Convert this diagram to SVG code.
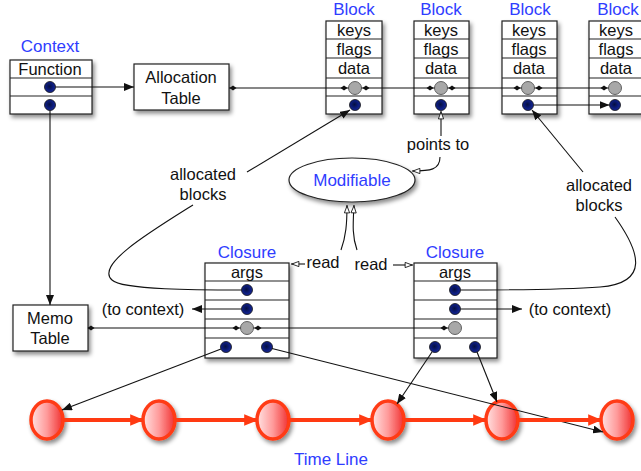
<svg xmlns="http://www.w3.org/2000/svg" width="641" height="471" viewBox="0 0 641 471">
<defs>
<style>
text{font-family:"Liberation Sans",Arial,sans-serif;font-size:16.5px;fill:#111;text-anchor:middle}
.blue{fill:#2f3dff;font-size:17px}
.box{fill:#fff;stroke:#222;stroke-width:1.2}
.row{stroke:#222;stroke-width:1.1;fill:none}
.ln{stroke:#111;stroke-width:1.1;fill:none}
.red{stroke:#ff3a12;stroke-width:4;fill:none}
.dot{fill:url(#gDot);stroke:#111;stroke-width:0.8}
.gry{fill:#a8a8a8;stroke:#555;stroke-width:0.9}
.tl{fill:url(#gRed);stroke:#ff3a12;stroke-width:3.5}
</style>
<filter id="sh" x="-20%" y="-20%" width="150%" height="150%">
<feDropShadow dx="2" dy="3" stdDeviation="2" flood-color="#000" flood-opacity="0.45"/>
</filter>
<radialGradient id="gDot" cx="0.45" cy="0.45" r="0.6">
<stop offset="0" stop-color="#061040"/>
<stop offset="0.6" stop-color="#0d1d80"/>
<stop offset="1" stop-color="#1a2a99"/>
</radialGradient>
<linearGradient id="gRed" x1="0" y1="0" x2="1" y2="0">
<stop offset="0" stop-color="#ffe3e3"/>
<stop offset="0.5" stop-color="#ff9a9a"/>
<stop offset="1" stop-color="#f03030"/>
</linearGradient>
<marker id="ar" viewBox="0 0 10 8" refX="10" refY="4" markerWidth="10" markerHeight="8" markerUnits="userSpaceOnUse" orient="auto">
<path d="M0,0 L10,4 L0,8 z" fill="#111"/>
</marker>
<marker id="op" viewBox="0 0 10 8" refX="10" refY="4" markerWidth="9" markerHeight="7" markerUnits="userSpaceOnUse" orient="auto">
<path d="M1,1 L9,4 L1,7 z" fill="#fff" stroke="#111" stroke-width="1"/>
</marker>
<marker id="rar" viewBox="0 0 12 10" refX="11" refY="5" markerWidth="14" markerHeight="12" markerUnits="userSpaceOnUse" orient="auto">
<path d="M0,0 L12,5 L0,10 z" fill="#ff3a12"/>
</marker>
<path id="dm" d="M-3.5,0 L0,-2.5 L3.5,0 L0,2.5 z" fill="#111"/>
</defs>
<rect width="641" height="471" fill="#fff"/>

<g id="context">
<text class="blue" x="50" y="52">Context</text>
<rect class="box" x="10" y="60" width="82" height="54" filter="url(#sh)"/>
<path class="row" d="M10,78 H92 M10,96 H92"/>
<text x="50" y="75">Function</text>
<circle class="dot" cx="50" cy="87" r="5.5"/>
<circle class="dot" cx="50" cy="105" r="5.5"/>
</g>

<g id="allocation-table">
<rect class="box" x="134" y="64" width="95" height="46" filter="url(#sh)"/>
<text x="181" y="83">Allocation</text>
<text x="181" y="104">Table</text>
</g>

<g id="block1">
<text class="blue" x="354" y="15">Block</text>
<rect class="box" x="326" y="21" width="56" height="93" filter="url(#sh)"/>
<path class="row" d="M326,39 H382 M326,58 H382 M326,78 H382 M326,96 H382"/>
<text x="354" y="36">keys</text><text x="354" y="55">flags</text><text x="354" y="74">data</text>
<circle class="gry" cx="355" cy="88" r="6.5"/>
<circle class="dot" cx="355" cy="105" r="5.5"/>
</g>
<g id="block2">
<text class="blue" x="441" y="15">Block</text>
<rect class="box" x="414" y="21" width="55" height="93" filter="url(#sh)"/>
<path class="row" d="M414,39 H469 M414,58 H469 M414,78 H469 M414,96 H469"/>
<text x="441" y="36">keys</text><text x="441" y="55">flags</text><text x="441" y="74">data</text>
<circle class="gry" cx="441" cy="88" r="6.5"/>
<circle class="dot" cx="441" cy="105" r="5.5"/>
</g>
<g id="block3">
<text class="blue" x="530" y="15">Block</text>
<rect class="box" x="502" y="21" width="55" height="93" filter="url(#sh)"/>
<path class="row" d="M502,39 H557 M502,58 H557 M502,78 H557 M502,96 H557"/>
<text x="529" y="36">keys</text><text x="529" y="55">flags</text><text x="529" y="74">data</text>
<circle class="gry" cx="528" cy="88" r="6.5"/>
<circle class="dot" cx="528" cy="105" r="5.5"/>
</g>
<g id="block4">
<text class="blue" x="618" y="15">Block</text>
<rect class="box" x="589" y="21" width="56" height="93" filter="url(#sh)"/>
<path class="row" d="M589,39 H645 M589,58 H645 M589,78 H645 M589,96 H645"/>
<text x="616" y="36">keys</text><text x="616" y="55">flags</text><text x="616" y="74">data</text>
<circle class="gry" cx="615" cy="88" r="6.5"/>
<circle class="dot" cx="615" cy="105" r="5.5"/>
</g>

<g id="points-to-label"><text x="438" y="150">points to</text></g>

<g id="modifiable">
<ellipse cx="352" cy="180" rx="63" ry="22" fill="#fff" stroke="#222" stroke-width="1.2" filter="url(#sh)"/>
<text class="blue" x="352" y="186">Modifiable</text>
</g>

<g id="allocated-left"><text x="203" y="180">allocated</text><text x="203" y="200">blocks</text></g>
<g id="allocated-right"><text x="599" y="191">allocated</text><text x="599" y="211">blocks</text></g>

<g id="read-labels"><text x="323" y="268">read</text><text x="371" y="270">read</text></g>

<g id="closure1">
<text class="blue" x="247" y="258">Closure</text>
<rect class="box" x="205" y="263" width="84" height="95" filter="url(#sh)"/>
<path class="row" d="M205,281 H289 M205,300 H289 M205,319 H289 M205,338 H289"/>
<text x="247" y="278">args</text>
<circle class="dot" cx="247" cy="290" r="5.5"/>
<circle class="dot" cx="247" cy="309" r="5.5"/>
<circle class="gry" cx="247" cy="328" r="6.5"/>
<circle class="dot" cx="226" cy="347" r="5.5"/>
<circle class="dot" cx="267" cy="347" r="5.5"/>
</g>

<g id="closure2">
<text class="blue" x="455" y="258">Closure</text>
<rect class="box" x="414" y="263" width="83" height="95" filter="url(#sh)"/>
<path class="row" d="M414,281 H497 M414,300 H497 M414,319 H497 M414,338 H497"/>
<text x="455" y="278">args</text>
<circle class="dot" cx="455" cy="290" r="5.5"/>
<circle class="dot" cx="455" cy="309" r="5.5"/>
<circle class="gry" cx="455" cy="328" r="6.5"/>
<circle class="dot" cx="435" cy="347" r="5.5"/>
<circle class="dot" cx="475" cy="347" r="5.5"/>
</g>

<g id="to-context-labels"><text x="143" y="315">(to context)</text><text x="570" y="315">(to context)</text></g>

<g id="memo-table">
<rect class="box" x="13" y="305" width="75" height="46" filter="url(#sh)"/>
<text x="50" y="324">Memo</text>
<text x="50" y="344">Table</text>
</g>

<g id="timeline">
<ellipse class="tl" cx="47" cy="420" rx="16" ry="19" filter="url(#sh)"/>
<ellipse class="tl" cx="159" cy="420" rx="16" ry="19" filter="url(#sh)"/>
<ellipse class="tl" cx="273" cy="420" rx="16" ry="19" filter="url(#sh)"/>
<ellipse class="tl" cx="388" cy="420" rx="16" ry="19" filter="url(#sh)"/>
<ellipse class="tl" cx="502" cy="420" rx="16" ry="19" filter="url(#sh)"/>
<ellipse class="tl" cx="617" cy="420" rx="16" ry="19" filter="url(#sh)"/>
<text class="blue" x="331" y="465">Time Line</text>
</g>

<g id="connectors">
<path class="ln" d="M55.5,87 L134,87" marker-end="url(#ar)"/>
<path class="ln" d="M229,88 L348.5,88 M361.5,88 L434.5,88 M447.5,88 L521.5,88 M534.5,88 L608.5,88"/>
<use href="#dm" x="233" y="88"/>
<use href="#dm" x="344" y="88"/><use href="#dm" x="366" y="88"/>
<use href="#dm" x="430" y="88"/><use href="#dm" x="452" y="88"/>
<use href="#dm" x="517" y="88"/><use href="#dm" x="539" y="88"/>
<use href="#dm" x="604" y="88"/>
<path class="ln" d="M533.5,105 L609.5,105" marker-end="url(#ar)"/>
<path class="ln" d="M441,136 L441,111" marker-end="url(#op)"/>
<path class="ln" d="M440,157 C440,170 430,171 412,171" marker-end="url(#op)"/>
<path class="ln" d="M247,172 L350,110" marker-end="url(#ar)"/>
<path class="ln" d="M193,205 C150,232 95,265 112,280 C122,290 200,290 241.5,290"/>
<path class="ln" d="M583,172 L532,110" marker-end="url(#ar)"/>
<path class="ln" d="M615,217 C640,252 650,283 600,287 C560,290 500,290 460.5,290"/>
<path class="ln" d="M341,250 C346,236 347,224 347,205" marker-end="url(#op)"/>
<path class="ln" d="M357,250 C352,236 353,224 354,205" marker-end="url(#op)"/>
<path class="ln" d="M305,264 L291,264" marker-end="url(#op)"/>
<path class="ln" d="M393,265 L413,265" marker-end="url(#op)"/>
<path class="ln" d="M241.5,309 L192,309" marker-end="url(#ar)"/>
<path class="ln" d="M460.5,309 L522,309" marker-end="url(#ar)"/>
<path class="ln" d="M50,110.5 L50,305" marker-end="url(#ar)"/>
<path class="ln" d="M88,328 L240.5,328 M253.5,328 L448.5,328"/>
<use href="#dm" x="91" y="328"/>
<use href="#dm" x="236" y="328"/><use href="#dm" x="258" y="328"/>
<use href="#dm" x="444" y="328"/>
<path class="ln" d="M221,349 L62,410" marker-end="url(#ar)"/>
<path class="ln" d="M272,348.5 L603,432" marker-end="url(#ar)"/>
<path class="ln" d="M432,352 L397,404" marker-end="url(#ar)"/>
<path class="ln" d="M477,352 L497,402" marker-end="url(#ar)"/>
<path class="red" d="M63,420 L143,420" marker-end="url(#rar)"/>
<path class="red" d="M175,420 L257,420" marker-end="url(#rar)"/>
<path class="red" d="M289,420 L372,420" marker-end="url(#rar)"/>
<path class="red" d="M404,420 L486,420" marker-end="url(#rar)"/>
<path class="red" d="M518,420 L601,420" marker-end="url(#rar)"/>
</g>
</svg>
